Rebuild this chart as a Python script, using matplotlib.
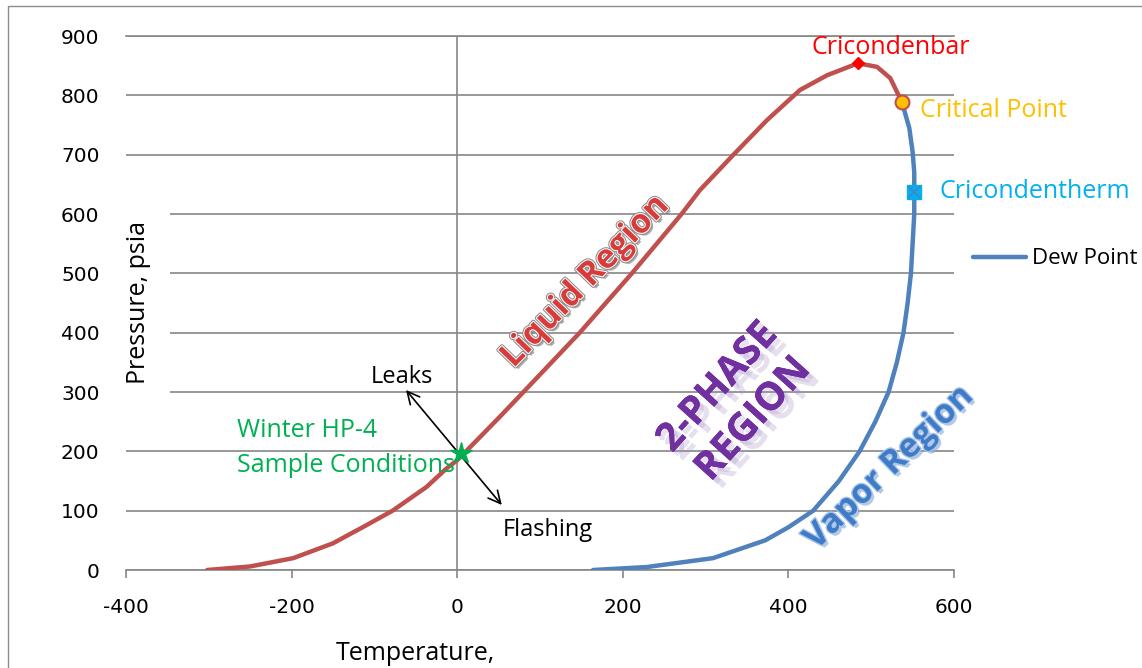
import matplotlib
matplotlib.use('Agg')
import matplotlib.pyplot as plt
import matplotlib.patheffects as pe
from matplotlib.patches import Rectangle
from matplotlib.lines import Line2D

plt.rcParams['axes.unicode_minus'] = False

# bubble point curve (red)
bubble_temp = [-302, -250, -198, -150, -109, -78, -37, -13, 0, 24, 52, 80, 148, 211, 271, 293, 333, 374, 414, 447, 484, 507, 523, 537]
bubble_pres = [0, 6, 20, 45, 76, 100, 140, 171, 185, 219, 259, 300, 400, 500, 600, 640, 699, 758, 809, 834, 854, 848, 829, 789]

# dew point curve (blue)
dew_temp = [537, 546, 550, 552, 552, 552, 548, 544, 539, 531, 521, 505, 486, 461, 430, 400, 372, 309, 229, 164]
dew_pres = [789, 745, 705, 670, 637, 600, 500, 450, 400, 350, 300, 250, 200, 150, 100, 72, 50, 20, 5, 0]

cricondenbar = (484, 854)
critical_point = (537, 789)
cricondentherm = (552, 637)
sample_point = (5, 197)

x_ticks = [-400, -200, 0, 200, 400, 600]
y_ticks = [0, 100, 200, 300, 400, 500, 600, 700, 800, 900]

W, H = 1142, 668
fig = plt.figure(figsize=(W / 100, H / 100), dpi=100)
fig.patch.set_facecolor('white')
ax = fig.add_axes([126 / W, 1 - 570 / H, 828 / W, 534 / H])

ax.set_xlim(-400, 600)
ax.set_ylim(0, 900)
ax.set_xticks(x_ticks)
ax.set_yticks(y_ticks)
ax.yaxis.grid(True, color='#868686', lw=1.2)
ax.axvline(0, color='#868686', lw=1.2, zorder=1)
for s in ['left', 'right']:
    ax.spines[s].set_visible(False)
for s in ['top', 'bottom']:
    ax.spines[s].set_color('#868686')
    ax.spines[s].set_linewidth(1.2)
ax.tick_params(axis='y', length=0, pad=19, labelsize=14.5)
ax.tick_params(axis='x', length=6, width=1.2, color='#868686', pad=14, labelsize=14.5)

ax.plot(dew_temp, dew_pres, color='#4F81BD', lw=3.2, solid_capstyle='round', solid_joinstyle='round', zorder=3)
ax.plot(bubble_temp, bubble_pres, color='#C0504D', lw=3.2, solid_capstyle='round', solid_joinstyle='round', zorder=3)

ax.plot(*cricondenbar, marker='D', color='#FF0000', ms=6, zorder=5)
ax.plot(*critical_point, marker='o', mfc='#FFC000', mec='#C0504D', mew=1.5, ms=10, zorder=5)
ax.plot(*cricondentherm, marker='s', color='#00B0F0', ms=10, zorder=5)
ax.plot(*cricondentherm, marker='x', color='#4F81BD', ms=9, mew=1.2, zorder=6)
ax.plot(*sample_point, marker='*', color='#00B050', ms=16, zorder=6)

tf = 'Open Sans'
ax.set_xlabel('Temperature,', fontsize=18, family=tf)
ax.xaxis.set_label_coords(0.349, -0.133)
ax.set_ylabel('Pressure, psia', fontsize=18, family=tf,
              bbox=dict(boxstyle='square,pad=0.75', fc='white', ec='none'))
ax.yaxis.set_label_coords(0.030, 0.5)

ax.text(428, 870, 'Cricondenbar', color='#FF0000', fontsize=18, family=tf, va='baseline')
ax.text(559, 763, 'Critical Point', color='#FFC000', fontsize=18, family=tf, va='baseline')
ax.text(583, 627, 'Cricondentherm', color='#00B0F0', fontsize=18, family=tf, va='baseline')
ax.text(-266, 224, 'Winter HP-4', color='#00B050', fontsize=18, family=tf, va='baseline')
ax.text(-266, 165, 'Sample Conditions', color='#00B050', fontsize=18, family=tf, va='baseline')
ax.text(-105, 315, 'Leaks', color='black', fontsize=17, family=tf, va='baseline')
ax.text(55, 57, 'Flashing', color='black', fontsize=17, family=tf, va='baseline')

ax.annotate('', xy=(-64, 307), xytext=(56, 106),
            arrowprops=dict(arrowstyle='<->', color='black', lw=1.2, mutation_scale=22), zorder=4)

ax.text(155, 486, 'Liquid Region', color='#D93A3A', fontsize=24, family=tf, weight='bold',
        rotation=46, rotation_mode='anchor', ha='center', va='center', zorder=4,
        path_effects=[pe.withSimplePatchShadow(offset=(2, -2), shadow_rgbFace='#777777', alpha=0.6),
                      pe.Stroke(linewidth=3, foreground='#8c8c8c'),
                      pe.Stroke(linewidth=1.5, foreground='white'), pe.Normal()])

ax.text(336, 281, '2-PHASE\nREGION', color='#7030A0', fontsize=28, family=tf, weight='bold',
        rotation=48, rotation_mode='anchor', ha='center', va='center', multialignment='center',
        linespacing=1.3, zorder=4,
        path_effects=[pe.withSimplePatchShadow(offset=(7, -6), shadow_rgbFace='#a58cc4', alpha=0.28),
                      pe.withSimplePatchShadow(offset=(3, -3), shadow_rgbFace='#a58cc4', alpha=0.25),
                      pe.Normal()])

ax.text(522, 172, 'Vapor Region', color='#3F7BC6', fontsize=24, family=tf, weight='bold',
        rotation=44, rotation_mode='anchor', ha='center', va='center', zorder=4,
        path_effects=[pe.withSimplePatchShadow(offset=(2, -2), shadow_rgbFace='#8aa8cf', alpha=0.6),
                      pe.Stroke(linewidth=2, foreground='#a9c6ea'), pe.Normal()])

dew_handle = Line2D([], [], color='#4F81BD', lw=3.2, solid_capstyle='round')
fig.legend(handles=[dew_handle], labels=['Dew Point'], loc='center left',
           bbox_to_anchor=(973 / W, 1 - 259 / H), frameon=False,
           prop={'family': tf, 'size': 16}, handlelength=2.4, handletextpad=0.25,
           borderpad=0, borderaxespad=0)

fig.patches.append(Rectangle((8 / W, -0.1), 2, 1 - 6 / H + 0.1, transform=fig.transFigure,
                             fill=False, ec='#8c8c8c', lw=1))

fig.savefig('out.png', dpi=100)
